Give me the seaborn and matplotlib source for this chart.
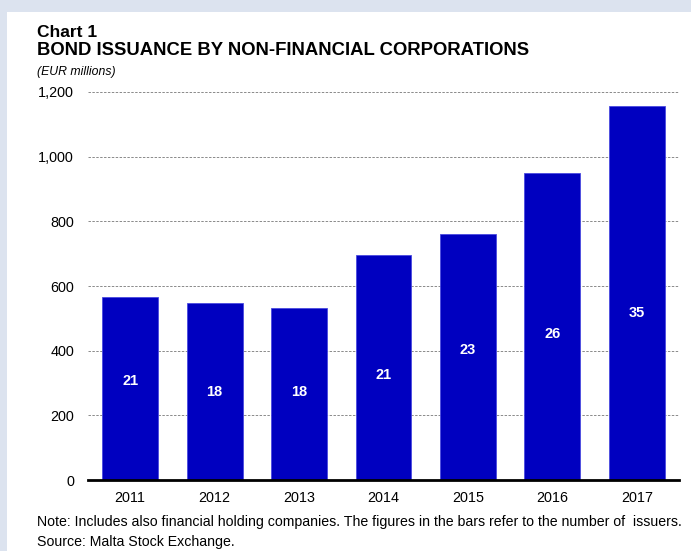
import matplotlib
matplotlib.use("Agg")
import matplotlib.pyplot as plt
import matplotlib.patches as mpatches
from matplotlib.ticker import FuncFormatter
import seaborn as sns
import pandas as pd

# Bond issuance by non-financial corporations (EUR millions)
years = ["2011", "2012", "2013", "2014", "2015", "2016", "2017"]
issuance = [567, 548, 531, 695, 760, 950, 1158]
issuers = [21, 18, 18, 21, 23, 26, 35]
# height (EUR millions) at which each issuer count is printed inside its bar
label_heights = [305, 271, 271, 324, 401, 453, 515]

df = pd.DataFrame({"year": years, "issuance": issuance})

sns.set_theme(style="white")
plt.rcParams["font.family"] = ["Liberation Sans", "DejaVu Sans"]

W, H = 691, 551
fig = plt.figure(figsize=(W / 100, H / 100), dpi=100)
fig.patch.set_facecolor("#dce3ef")

# white panel behind everything
fig.patches.append(mpatches.Rectangle((7 / W, 0), 1 - 7 / W, 1 - 12 / H,
                                      transform=fig.transFigure,
                                      facecolor="white", edgecolor="none", zorder=-5))

ax = fig.add_axes([88 / W, (H - 480) / H, (679 - 88) / W, (480 - 92) / H])
ax.set_zorder(2)
ax.set_facecolor("none")

sns.barplot(data=df, x="year", y="issuance", color="#0000c0", saturation=1,
            width=0.66, ax=ax, zorder=3, edgecolor="#4a4ae0", linewidth=0.6)

ax.set_xlim(-0.5, len(years) - 0.5)
ax.set_ylim(0, 1200)
ax.set_yticks(range(0, 1201, 200))
ax.yaxis.set_major_formatter(FuncFormatter(lambda v, p: f"{int(v):,}"))
ax.grid(axis="y", linestyle=(0, (2.5, 1.5)), color="#8a8a8a", linewidth=0.7, zorder=1)
ax.grid(axis="x", visible=False)
ax.set_axisbelow(True)
for side in ["top", "right", "left"]:
    ax.spines[side].set_visible(False)
ax.spines["bottom"].set_color("black")
ax.spines["bottom"].set_linewidth(2.0)
ax.spines["bottom"].set_zorder(4)
ax.tick_params(axis="both", length=0, labelsize=10.4, colors="black")
ax.tick_params(axis="y", pad=10)
ax.tick_params(axis="x", pad=8)
ax.set_xlabel("")
ax.set_ylabel("")

for i, (n, h) in enumerate(zip(issuers, label_heights)):
    ax.text(i, h, str(n), ha="center", va="center", color="white",
            fontsize=10.5, fontweight="bold", zorder=5)

fig.text(37 / W, 1 - 37 / H, "Chart 1", ha="left", va="baseline",
         fontsize=12.5, fontweight="bold", color="black")
fig.text(37 / W, 1 - 55 / H, "BOND ISSUANCE BY NON-FINANCIAL CORPORATIONS",
         ha="left", va="baseline", fontsize=13.3, fontweight="bold", color="black")
fig.text(37 / W, 1 - 75 / H, "(EUR millions)", ha="left", va="baseline",
         fontsize=8.8, fontstyle="italic", color="black")
fig.text(37 / W, 1 - 526 / H,
         "Note: Includes also financial holding companies. The figures in the bars refer to the number of  issuers.",
         ha="left", va="baseline", fontsize=10.2, color="black")
fig.text(37 / W, 1 - 546 / H, "Source: Malta Stock Exchange.", ha="left", va="baseline",
         fontsize=10.2, color="black")

fig.savefig("out.png", dpi=100, facecolor=fig.get_facecolor())
